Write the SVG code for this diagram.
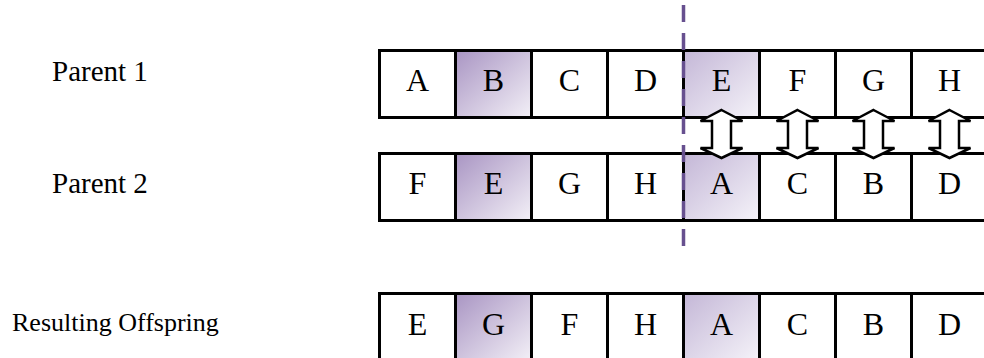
<svg xmlns="http://www.w3.org/2000/svg" width="984" height="358" viewBox="0 0 984 358">
<defs>
<linearGradient id="gDark" x1="0" y1="0" x2="1" y2="1">
<stop offset="0" stop-color="#a995c3"/>
<stop offset="1" stop-color="#f3f0f7"/>
</linearGradient>
<linearGradient id="gLight" x1="0" y1="0" x2="1" y2="1">
<stop offset="0" stop-color="#c4b7d7"/>
<stop offset="1" stop-color="#f5f3f9"/>
</linearGradient>
<style>
.cell{fill:#fff;stroke:#000;stroke-width:3}
.dark{fill:url(#gDark)}
.light{fill:url(#gLight)}
.lt{font-family:"Liberation Serif","Times New Roman",serif;font-size:32px;fill:#000;text-anchor:middle}
.lbl{font-family:"Liberation Serif","Times New Roman",serif;font-size:29px;fill:#000}
.lbl2{font-family:"Liberation Serif","Times New Roman",serif;font-size:26px;fill:#000}
.arr{fill:#fff;stroke:#000;stroke-width:2.5;stroke-linejoin:miter}
.cut{fill:none;stroke:#67508f;stroke-width:3.5;stroke-dasharray:17 11}
</style>
</defs>
<rect width="984" height="358" fill="#fff"/>

<g id="label-parent1"><text class="lbl" x="52" y="81">Parent 1</text></g>
<g id="label-parent2"><text class="lbl" x="52" y="193">Parent 2</text></g>
<g id="label-offspring"><text class="lbl2" x="12" y="331">Resulting Offspring</text></g>

<g id="parent1">
<rect class="cell" x="379.5" y="50.5" width="76" height="67"/>
<rect class="cell dark" x="455.5" y="50.5" width="76" height="67"/>
<rect class="cell" x="531.5" y="50.5" width="76" height="67"/>
<rect class="cell" x="607.5" y="50.5" width="76" height="67"/>
<rect class="cell light" x="683.5" y="50.5" width="76" height="67"/>
<rect class="cell" x="759.5" y="50.5" width="76" height="67"/>
<rect class="cell" x="835.5" y="50.5" width="76" height="67"/>
<rect class="cell" x="911.5" y="50.5" width="76" height="67"/>
<text class="lt" x="417.5" y="91">A</text>
<text class="lt" x="493.5" y="91">B</text>
<text class="lt" x="569.5" y="91">C</text>
<text class="lt" x="645.5" y="91">D</text>
<text class="lt" x="721.5" y="91">E</text>
<text class="lt" x="797.5" y="91">F</text>
<text class="lt" x="873.5" y="91">G</text>
<text class="lt" x="949.5" y="91">H</text>
</g>

<g id="parent2">
<rect class="cell" x="379.5" y="153.5" width="76" height="67"/>
<rect class="cell dark" x="455.5" y="153.5" width="76" height="67"/>
<rect class="cell" x="531.5" y="153.5" width="76" height="67"/>
<rect class="cell" x="607.5" y="153.5" width="76" height="67"/>
<rect class="cell light" x="683.5" y="153.5" width="76" height="67"/>
<rect class="cell" x="759.5" y="153.5" width="76" height="67"/>
<rect class="cell" x="835.5" y="153.5" width="76" height="67"/>
<rect class="cell" x="911.5" y="153.5" width="76" height="67"/>
<text class="lt" x="417.5" y="194">F</text>
<text class="lt" x="493.5" y="194">E</text>
<text class="lt" x="569.5" y="194">G</text>
<text class="lt" x="645.5" y="194">H</text>
<text class="lt" x="721.5" y="194">A</text>
<text class="lt" x="797.5" y="194">C</text>
<text class="lt" x="873.5" y="194">B</text>
<text class="lt" x="949.5" y="194">D</text>
</g>

<g id="offspring">
<rect class="cell" x="379.5" y="293.5" width="76" height="67"/>
<rect class="cell dark" x="455.5" y="293.5" width="76" height="67"/>
<rect class="cell" x="531.5" y="293.5" width="76" height="67"/>
<rect class="cell" x="607.5" y="293.5" width="76" height="67"/>
<rect class="cell light" x="683.5" y="293.5" width="76" height="67"/>
<rect class="cell" x="759.5" y="293.5" width="76" height="67"/>
<rect class="cell" x="835.5" y="293.5" width="76" height="67"/>
<rect class="cell" x="911.5" y="293.5" width="76" height="67"/>
<text class="lt" x="417.5" y="335">E</text>
<text class="lt" x="493.5" y="335">G</text>
<text class="lt" x="569.5" y="335">F</text>
<text class="lt" x="645.5" y="335">H</text>
<text class="lt" x="721.5" y="335">A</text>
<text class="lt" x="797.5" y="335">C</text>
<text class="lt" x="873.5" y="335">B</text>
<text class="lt" x="949.5" y="335">D</text>
</g>

<g id="connectors">
<path class="arr" d="M721.5,110 L742.5,121 L731,121 L731,148 L742.5,148 L721.5,158 L700.5,148 L712,148 L712,121 L700.5,121 Z"/>
<path class="arr" d="M797.5,110 L818.5,121 L807,121 L807,148 L818.5,148 L797.5,158 L776.5,148 L788,148 L788,121 L776.5,121 Z"/>
<path class="arr" d="M873.5,110 L894.5,121 L883,121 L883,148 L894.5,148 L873.5,158 L852.5,148 L864,148 L864,121 L852.5,121 Z"/>
<path class="arr" d="M949.5,110 L970.5,121 L959,121 L959,148 L970.5,148 L949.5,158 L928.5,148 L940,148 L940,121 L928.5,121 Z"/>
<line class="cut" x1="683.5" y1="5" x2="683.5" y2="246"/>
</g>
</svg>
